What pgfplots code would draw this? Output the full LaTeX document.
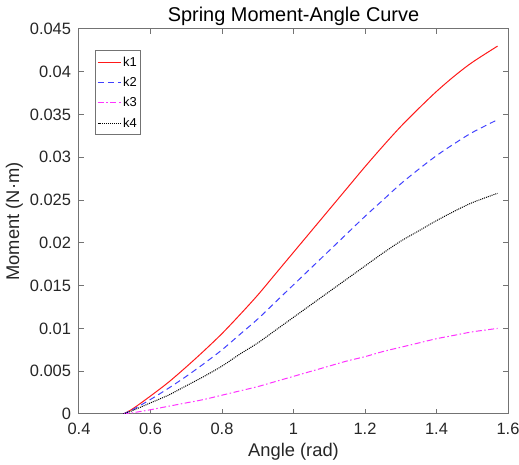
\documentclass[border=0pt]{standalone}
\usepackage{fontspec}
\setmainfont{Liberation Sans}
\usepackage{pgfplots}
\usepackage{pgfplotstable}
\pgfplotsset{compat=1.18}
\usetikzlibrary{calc}

% angle (rad) and moment (N m) for the four springs
\pgfplotstableread{
x       k1      k2      k3       k4
0.5236  0.0000  0.0000  0.00000  0.0000
0.55    0.0006  0.0005  0.00014  0.0004
0.60    0.0021  0.0017  0.00050  0.0013
0.65    0.0037  0.0030  0.00090  0.0022
0.70    0.0055  0.0044  0.00130  0.0033
0.75    0.0074  0.0059  0.00170  0.0044
0.80    0.0094  0.0075  0.00220  0.0056
0.85    0.0116  0.0093  0.00270  0.0070
0.90    0.0139  0.0111  0.00320  0.0083
0.95    0.0164  0.0131  0.00380  0.0098
1.00    0.0189  0.0151  0.00440  0.0113
1.05    0.0214  0.0171  0.00500  0.0128
1.10    0.0239  0.0191  0.00560  0.0143
1.15    0.0264  0.0211  0.00620  0.0158
1.20    0.0289  0.0231  0.00670  0.0173
1.25    0.0313  0.0250  0.00730  0.0188
1.30    0.0336  0.0269  0.00780  0.0202
1.35    0.0357  0.0286  0.00830  0.0214
1.40    0.0377  0.0302  0.00880  0.0226
1.45    0.0395  0.0316  0.00920  0.0237
1.50    0.0411  0.0329  0.00960  0.0247
1.5708  0.0430  0.0344  0.01000  0.0258
}\springdata

\definecolor{axgray}{gray}{0.45}
\definecolor{kred}{rgb}{1,0.1,0.1}
\definecolor{kblue}{rgb}{0.25,0.25,1}
\definecolor{kmag}{rgb}{1,0.2,1}

\begin{document}
\begin{tikzpicture}
\begin{axis}[
    scale only axis,
    width=429bp, height=385bp,
    xmin=0.4, xmax=1.6,
    ymin=0, ymax=0.045,
    xtick={0.4,0.6,...,1.6},
    ytick={0,0.005,...,0.045},
    scaled y ticks=false,
    xticklabels={0.4,0.6,0.8,1,1.2,1.4,1.6},
    yticklabel style={/pgf/number format/fixed,/pgf/number format/precision=3, inner sep=0pt, xshift=-7.5bp},
    xticklabel style={inner sep=0pt, yshift=-9bp},
    /pgf/number format/assume math mode=true,
    tick align=inside,
    major tick length=5bp,
    axis line style={axgray},
    every tick/.style={axgray},
    tick label style={font=\fontsize{16.5}{19}\selectfont, text=black!85},
    label style={font=\fontsize{18.4}{21}\selectfont, text=black!85},
    title style={font=\fontsize{20}{23}\selectfont, yshift=-6bp},
    title={Spring Moment-Angle Curve},
    xlabel={Angle (rad)},
    ylabel={Moment (N·m)},
    xlabel style={yshift=-4.5bp},
    ylabel style={yshift=3bp},
    legend style={font=\fontsize{13}{15}\selectfont, at={(0.037,0.945)}, anchor=north west,
        draw=axgray, fill=white, inner xsep=2bp, inner ysep=4bp, row sep=5.5bp},
    legend cell align=left,
    legend image code/.code={\draw[#1] plot coordinates {(0cm,0cm) (0.8cm,0cm)};},
    line width=1bp,
]
\addplot[kred, solid, smooth] table[x=x, y=k1] {\springdata};
\addlegendentry{k1}
\addplot[kblue, dash pattern=on 6bp off 4bp, smooth] table[x=x, y=k2] {\springdata};
\addlegendentry{k2}
\addplot[kmag, dash pattern=on 6bp off 2.5bp on 1.5bp off 2.5bp, smooth] table[x=x, y=k3] {\springdata};
\addlegendentry{k3}
\addplot[black, dash pattern=on 1bp off 1bp, smooth] table[x=x, y=k4] {\springdata};
\addlegendentry{k4}
\end{axis}
\pgfresetboundingbox
\path[use as bounding box] ($(current axis.south west)+(-79bp,-51bp)$) rectangle ($(current axis.north east)+(11bp,29bp)$);
\end{tikzpicture}
\end{document}
